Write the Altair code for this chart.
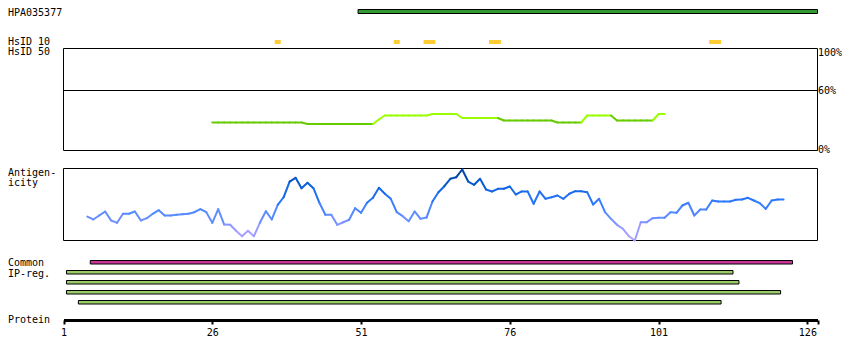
import altair as alt
import pandas as pd

FONT = "DejaVu Sans Mono"

# ---------------- data (residue coordinates) ----------------
protein_start = 1
protein_end = 127.7
tick_values = [1, 26, 51, 76, 101, 126]

hpa_name = "HPA035377"
hpa_start = [50.5]
hpa_end = [127.7]

hsid10_start = [36.5, 56.5, 61.5, 72.5, 109.5]
hsid10_end = [37.5, 57.5, 63.5, 74.5, 111.5]

# HsID 50 identity (%) for residues 26..102
identity_first = 26
identity_values = (
    [28] * 16 + [26.5] * 12 + [31] + [35] * 8 + [36.5] * 5 + [32.5] * 7
    + [30] * 9 + [28] * 5 + [35] * 5 + [30] * 7 + [36.5] * 2
)
identity_threshold = 31

# antigenicity score (0..1) for residues 5..122
antigen_first = 5
antigen_values = [
    0.333, 0.292, 0.347, 0.403, 0.278, 0.246, 0.371, 0.371, 0.403, 0.278,
    0.310, 0.371, 0.421, 0.347, 0.347, 0.357, 0.365, 0.371, 0.393, 0.435,
    0.393, 0.246, 0.435, 0.222, 0.218, 0.135, 0.060, 0.135, 0.060, 0.246,
    0.407, 0.292, 0.496, 0.601, 0.819, 0.871, 0.726, 0.801, 0.726, 0.524,
    0.357, 0.357, 0.218, 0.254, 0.288, 0.449, 0.385, 0.524, 0.593, 0.732,
    0.649, 0.579, 0.393, 0.338, 0.268, 0.403, 0.301, 0.319, 0.542, 0.671,
    0.754, 0.857, 0.879, 0.986, 0.819, 0.774, 0.857, 0.708, 0.681, 0.718,
    0.718, 0.750, 0.639, 0.681, 0.681, 0.510, 0.681, 0.579, 0.601, 0.625,
    0.579, 0.649, 0.685, 0.685, 0.671, 0.500, 0.579, 0.393, 0.301, 0.218,
    0.163, 0.060, 0.000, 0.254, 0.254, 0.310, 0.315, 0.315, 0.393, 0.385,
    0.486, 0.524, 0.347, 0.431, 0.431, 0.556, 0.542, 0.542, 0.542, 0.565,
    0.569, 0.593, 0.556, 0.518, 0.440, 0.556, 0.569, 0.569,
]

common_start = [5.5]
common_end = [123.5]

ipreg_start = [1.5, 1.5, 1.5, 3.5]
ipreg_end = [113.5, 114.5, 121.5, 111.5]

left_labels = ["HPA035377", "HsID 10", "HsID 50", "Antigen-", "icity",
               "Common", "IP-reg.", "Protein"]
right_labels = ["100%", "60%", "0%"]

# ---------------- tables ----------------
prot_df = pd.DataFrame({"start": [protein_start], "end": [protein_end]})
hpa_df = pd.DataFrame({"start": hpa_start, "end": hpa_end})
hs_df = pd.DataFrame({"start": hsid10_start, "end": hsid10_end})
com_df = pd.DataFrame({"start": common_start, "end": common_end})
ip_df = pd.DataFrame({"start": ipreg_start, "end": ipreg_end,
                      "row": list(range(len(ipreg_start)))})

idf = pd.DataFrame({"pos": range(identity_first, identity_first + len(identity_values)),
                    "v": identity_values})
idf["pos2"] = idf["pos"].shift(-1)
idf["v2"] = idf["v"].shift(-1)
idf = idf.dropna()

agf = pd.DataFrame({"pos": range(antigen_first, antigen_first + len(antigen_values)),
                    "s": antigen_values})
agf["pos2"] = agf["pos"].shift(-1)
agf["s2"] = agf["s"].shift(-1)
agf = agf.dropna()
agf["mid"] = (agf["s"] + agf["s2"]) / 2

# ---------------- scales / axis ----------------
XS = alt.Scale(domain=[protein_start, protein_end], range=[55.5, 809.5], nice=False, zero=False)
AX = alt.Axis(values=tick_values + [protein_end],
              labelExpr="datum.value > 127 ? '' : datum.label",
              format="d", title=None, grid=False,
              domainWidth=3, domainColor="black",
              tickWidth=2, tickSize=4, tickColor="black",
              labelFont=FONT, labelFontSize=10, labelColor="black",
              labelPadding=3, labelFlush=False, labelOverlap=False, labelAngle=0)
IDS = alt.Scale(domain=[0, 100], range=[142.5, 42.5], nice=False, zero=False)
AGS = alt.Scale(domain=[0, 1], range=[232.5, 160.5], nice=False, zero=False)


def X(field):
    return alt.X(field, type="quantitative", scale=XS, axis=AX)


layers = []

# HPA antigen bar
layers.append(alt.Chart(hpa_df).mark_rect(fill="#339933", stroke="black", strokeWidth=1).encode(
    x=X("start"), x2=alt.X2("end"), y=alt.value(1.5), y2=alt.value(5.5)))

# HsID 10 marks
layers.append(alt.Chart(hs_df).mark_rect(fill="#ffcc33").encode(
    x=X("start"), x2=alt.X2("end"), y=alt.value(32), y2=alt.value(36)))

# identity box
layers.append(alt.Chart(prot_df).mark_rect(fillOpacity=0, stroke="black", strokeWidth=1).encode(
    x=X("start"), x2=alt.X2("end"), y=alt.value(40.5), y2=alt.value(142.5)))
layers.append(alt.Chart(prot_df).mark_rule(color="black", strokeWidth=1).encode(
    x=X("start"), x2=alt.X2("end"), y=alt.YDatum(60, scale=IDS, axis=None)))
layers.append(alt.Chart(idf).mark_rule(strokeWidth=2, strokeCap="round").encode(
    x=X("pos"), x2=alt.X2("pos2"),
    y=alt.Y("v", type="quantitative", scale=IDS, axis=None), y2=alt.Y2("v2"),
    color=alt.condition(alt.datum.v2 >= identity_threshold,
                        alt.value("#99ff00"), alt.value("#66cc00"))))

# antigenicity box + line
layers.append(alt.Chart(prot_df).mark_rect(fillOpacity=0, stroke="black", strokeWidth=1).encode(
    x=X("start"), x2=alt.X2("end"),
    y=alt.YDatum(0, scale=AGS, axis=None), y2=alt.Y2Datum(1)))
layers.append(alt.Chart(agf).mark_rule(strokeWidth=2, strokeCap="round").encode(
    x=X("pos"), x2=alt.X2("pos2"),
    y=alt.Y("s", type="quantitative", scale=AGS, axis=None), y2=alt.Y2("s2"),
    color=alt.Color("mid:Q", legend=None,
                    scale=alt.Scale(domain=[0, 0.15, 0.35, 0.55, 0.75, 1.0],
                                    range=["#b8a8ff", "#9a9cff", "#5a8cff",
                                           "#2a78ff", "#0a62e0", "#003a8c"]))))

# common bar
layers.append(alt.Chart(com_df).mark_rect(fill="#cc3399", stroke="black", strokeWidth=1).encode(
    x=X("start"), x2=alt.X2("end"), y=alt.value(252.5), y2=alt.value(256)))

# IP-reg bars
layers.append(alt.Chart(ip_df).mark_bar(fill="#99cc66", stroke="black", strokeWidth=1).encode(
    x=X("start"), x2=alt.X2("end"),
    y=alt.Y("row:O", axis=None,
            scale=alt.Scale(type="band", domain=list(range(len(ipreg_start))),
                            range=[262.5, 296], paddingInner=0.65, paddingOuter=0))))

# text labels
left_pos = [(0, 8), (0, 37), (0, 47), (0, 168.3), (0, 178.3), (0, 258), (0, 268.7), (0, 315)]
right_pos = [(810, 48), (810, 86), (810, 145.3)]
for txt, (px, py) in zip(left_labels + right_labels, left_pos + right_pos):
    layers.append(alt.Chart(pd.DataFrame({"t": [txt]})).mark_text(
        align="left", baseline="alphabetic", font=FONT, fontSize=10, color="black").encode(
        x=alt.value(px), y=alt.value(py), text="t:N"))

chart = alt.layer(*layers).properties(
    width=834, height=312,
    padding={"left": 0, "right": 0, "top": 0, "bottom": 26},
    autosize=alt.AutoSizeParams(type="none"),
).resolve_scale(y="independent").configure_view(stroke=None)

chart.save("out.html", embed_options={"renderer": "svg", "actions": False})
